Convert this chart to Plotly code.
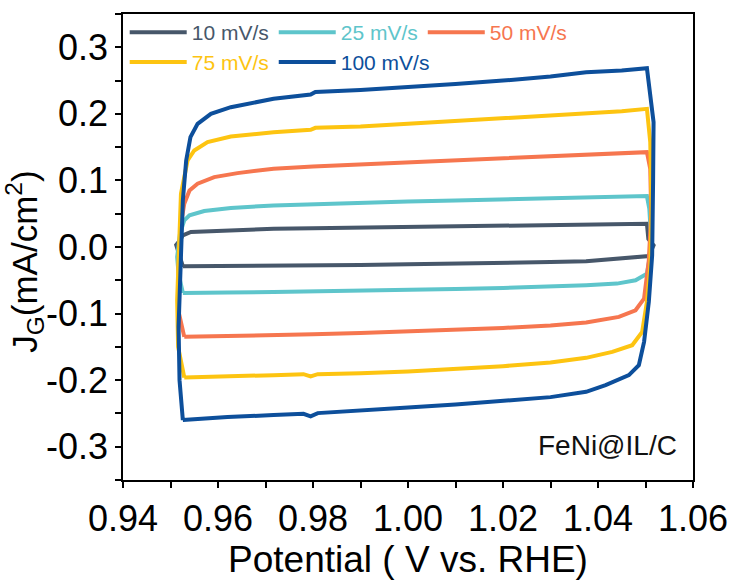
import plotly.graph_objects as go

# Cyclic voltammograms of FeNi@IL/C in the double-layer region at five scan rates.
# Each loop: anodic sweep (upper branch, left -> right), cathodic sweep (lower branch, right -> left).

x_10 = [0.9526, 0.9520, 0.9512, 0.9520, 0.9526, 0.9543, 0.9627, 0.9717, 0.9800, 0.9900, 1.0000,
        1.0100, 1.0200, 1.0300, 1.0375, 1.0450, 1.0503, 1.0506, 1.0517, 1.0507, 1.0444, 1.0375,
        1.0300, 1.0200, 1.0100, 1.0000, 0.9900, 0.9800, 0.9717, 0.9620, 0.9526]
j_10 = [-0.0290, -0.0150, 0.0030, 0.0100, 0.0175, 0.0225, 0.0250, 0.0275, 0.0280, 0.0290, 0.0300,
        0.0310, 0.0320, 0.0330, 0.0336, 0.0343, 0.0350, 0.0120, 0.0025, -0.0135, -0.0175, -0.0215,
        -0.0225, -0.0240, -0.0250, -0.0260, -0.0270, -0.0275, -0.0275, -0.0285, -0.0290]

x_25 = [0.9526, 0.9517, 0.9514, 0.9520, 0.9529, 0.9540, 0.9571, 0.9627, 0.9717, 0.9800, 0.9900,
        1.0000, 1.0100, 1.0200, 1.0300, 1.0375, 1.0450, 1.0503, 1.0508, 1.0511, 1.0513, 1.0508,
        1.0503, 1.0479, 1.0440, 1.0375, 1.0300, 1.0200, 1.0100, 1.0000, 0.9900, 0.9800, 0.9717,
        0.9620, 0.9526]
j_25 = [-0.0690, -0.0400, -0.0150, 0.0200, 0.0400, 0.0475, 0.0540, 0.0585, 0.0625, 0.0645, 0.0665,
        0.0685, 0.0700, 0.0715, 0.0725, 0.0735, 0.0750, 0.0765, 0.0575, 0.0200, 0.0000, -0.0200,
        -0.0400, -0.0500, -0.0550, -0.0575, -0.0595, -0.0615, -0.0630, -0.0645, -0.0660, -0.0670,
        -0.0675, -0.0685, -0.0690]

x_50 = [0.9529, 0.9518, 0.9517, 0.9521, 0.9529, 0.9540, 0.9557, 0.9592, 0.9641, 0.9717, 0.9800,
        0.9900, 1.0000, 1.0100, 1.0200, 1.0300, 1.0375, 1.0450, 1.0503, 1.0510, 1.0512, 1.0507,
        1.0501, 1.0497, 1.0479, 1.0444, 1.0375, 1.0300, 1.0200, 1.0100, 1.0000, 0.9900, 0.9800,
        0.9717, 0.9620, 0.9529]
j_50 = [-0.1350, -0.1000, -0.0300, 0.0300, 0.0650, 0.0850, 0.0950, 0.1050, 0.1110, 0.1176, 0.1210,
        0.1240, 0.1270, 0.1300, 0.1330, 0.1360, 0.1386, 0.1405, 0.1425, 0.1175, 0.0500, -0.0200,
        -0.0575, -0.0775, -0.0950, -0.1050, -0.1134, -0.1180, -0.1215, -0.1245, -0.1270, -0.1290,
        -0.1310, -0.1325, -0.1340, -0.1350]

x_75 = [0.9529, 0.9516, 0.9514, 0.9517, 0.9522, 0.9536, 0.9550, 0.9578, 0.9627, 0.9717, 0.9795,
        0.9805, 0.9900, 1.0000, 1.0100, 1.0200, 1.0300, 1.0375, 1.0450, 1.0503, 1.0510, 1.0513,
        1.0510, 1.0503, 1.0493, 1.0472, 1.0430, 1.0375, 1.0300, 1.0200, 1.0100, 1.0000, 0.9900,
        0.9810, 0.9795, 0.9780, 0.9717, 0.9620, 0.9529]
j_75 = [-0.1960, -0.1500, -0.0800, 0.0000, 0.0800, 0.1300, 0.1450, 0.1575, 0.1660, 0.1725, 0.1760,
        0.1790, 0.1810, 0.1850, 0.1890, 0.1930, 0.1970, 0.2000, 0.2040, 0.2075, 0.1575, 0.0600,
        -0.0300, -0.0825, -0.1275, -0.1475, -0.1575, -0.1665, -0.1735, -0.1790, -0.1835, -0.1870,
        -0.1895, -0.1910, -0.1945, -0.1910, -0.1925, -0.1945, -0.1960]

x_100 = [0.9526, 0.9519, 0.9517, 0.9521, 0.9526, 0.9533, 0.9542, 0.9557, 0.9585, 0.9627, 0.9717,
         0.9795, 0.9805, 0.9900, 1.0000, 1.0100, 1.0200, 1.0300, 1.0375, 1.0450, 1.0503, 1.0517,
         1.0516, 1.0514, 1.0507, 1.0497, 1.0486, 1.0465, 1.0416, 1.0375, 1.0300, 1.0200, 1.0100,
         1.0000, 0.9900, 0.9810, 0.9795, 0.9780, 0.9717, 0.9620, 0.9526]
j_100 = [-0.2600, -0.2000, -0.1200, -0.0400, 0.0700, 0.1300, 0.1650, 0.1850, 0.2000, 0.2100, 0.2226,
         0.2290, 0.2330, 0.2360, 0.2400, 0.2450, 0.2500, 0.2560, 0.2625, 0.2650, 0.2685, 0.1875,
         0.1000, -0.0125, -0.0825, -0.1425, -0.1775, -0.1925, -0.2075, -0.2175, -0.2255, -0.2315,
         -0.2365, -0.2410, -0.2455, -0.2495, -0.2545, -0.2505, -0.2525, -0.2555, -0.2600]

scan_rates = ["10 mV/s", "25 mV/s", "50 mV/s", "75 mV/s", "100 mV/s"]
colors = ["#47576a", "#5ec5cb", "#f6764f", "#fdc411", "#0d4f9b"]
xs = [x_10, x_25, x_50, x_75, x_100]
js = [j_10, j_25, j_50, j_75, j_100]
legend_ids = ["legend", "legend", "legend", "legend2", "legend2"]

x_ticks = [0.94, 0.96, 0.98, 1.00, 1.02, 1.04, 1.06]
x_ticktext = ["0.94", "0.96", "0.98", "1.00", "1.02", "1.04", "1.06"]
y_ticks = [-0.3, -0.2, -0.1, 0.0, 0.1, 0.2, 0.3]
y_ticktext = ["-0.3", "-0.2", "-0.1", "0.0", "0.1", "0.2", "0.3"]

FONT = "Liberation Sans, Arial, sans-serif"

fig = go.Figure()
for name, col, x, j, lg in zip(scan_rates, colors, xs, js, legend_ids):
    fig.add_trace(go.Scatter(
        x=x, y=j, mode="lines",
        line=dict(color=col, width=4),
        name=f'<span style="color:{col}">{name}</span>',
        legend=lg,
    ))

axis_common = dict(
    showline=True, linecolor="black", linewidth=1.5, mirror=True,
    ticks="outside", ticklen=6, tickwidth=1.5, tickcolor="black",
    showgrid=False, zeroline=False,
    tickfont=dict(family=FONT, size=36, color="black"),
)

fig.update_xaxes(
    range=[0.94, 1.06], tickvals=x_ticks, ticktext=x_ticktext,
    minor=dict(ticks="outside", ticklen=6, tickwidth=1.5, tickcolor="black", dtick=0.01, tick0=0.94),
    title=dict(text="Potential ( V vs. RHE)", font=dict(family=FONT, size=37, color="black"), standoff=2),
    **axis_common,
)
fig.update_yaxes(
    range=[-0.35, 0.35], tickvals=y_ticks, ticktext=y_ticktext,
    minor=dict(ticks="outside", ticklen=6, tickwidth=1.5, tickcolor="black", dtick=0.05, tick0=-0.35),
    title=dict(text="J<sub>G</sub>(mA/cm<sup>2</sup>)&nbsp;&nbsp;&nbsp;",
               font=dict(family=FONT, size=35, color="black"), standoff=0),
    **axis_common,
)

legend_common = dict(
    orientation="h", xanchor="left", yanchor="top", bgcolor="rgba(0,0,0,0)",
    font=dict(family=FONT, size=21), itemwidth=57, tracegroupgap=0,
    itemclick=False, itemdoubleclick=False,
)

fig.update_layout(
    width=740, height=586,
    margin=dict(l=123, r=42, t=13, b=106),
    paper_bgcolor="white", plot_bgcolor="white",
    showlegend=True,
    legend=dict(x=0.003, y=1.004, **legend_common),
    legend2=dict(x=0.003, y=0.94, **legend_common),
    annotations=[dict(
        text="FeNi@IL/C", xref="paper", yref="paper", x=0.975, y=0.073,
        xanchor="right", yanchor="middle", showarrow=False,
        font=dict(family=FONT, size=28, color="#111111"),
    )],
)

fig.write_html("out.html")
